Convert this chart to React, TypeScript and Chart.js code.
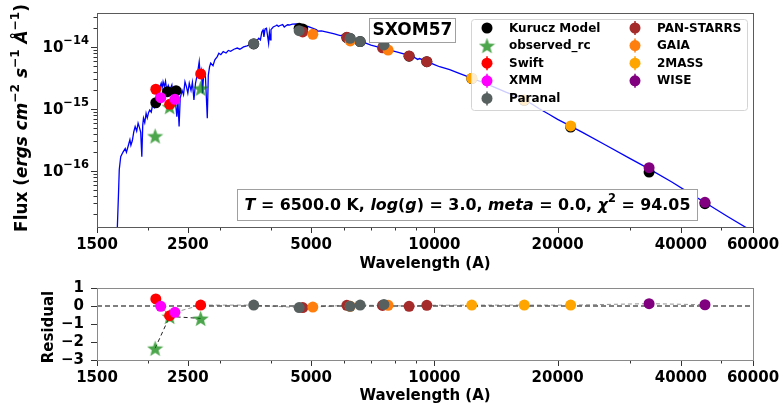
import React, { useEffect, useRef } from "react";
import { Chart, registerables } from "chart.js";

Chart.register(...registerables);

const FONT = "'DejaVu Sans', 'Liberation Sans', sans-serif";

// Kurucz model spectrum: wavelength (Å) and flux (erg cm^-2 s^-1 Å^-1)
const modelWave = [
  1680, 1693, 1700, 1714, 1735, 1758, 1770, 1791, 1805, 1815, 1830, 1845, 1859, 1875, 1890, 1905,
  1918, 1930, 1940, 1948, 1962, 1977, 1990, 2005, 2018, 2035, 2050, 2070, 2085, 2100, 2115, 2130,
  2152, 2164, 2175, 2190, 2205, 2222, 2240, 2260, 2285, 2300, 2320, 2350, 2365, 2380, 2395, 2420,
  2440, 2460, 2480, 2500, 2520, 2545, 2565, 2587, 2610, 2640, 2665, 2680, 2700, 2715, 2735, 2760,
  2789, 2805, 2825, 2843, 2880, 2910, 2950, 2976, 3010, 3050, 3100, 3140, 3180, 3240, 3300, 3350,
  3420, 3488, 3560, 3620, 3680, 3726, 3760, 3790, 3815, 3835, 3860, 3890, 3910, 3937, 3955, 3975,
  3990, 4040, 4100, 4126, 4160, 4200, 4260, 4300, 4340, 4380, 4425, 4500, 4600, 4700, 4800, 4861,
  4900, 5000, 5157, 5180, 5300, 5500, 5700, 5890, 5950, 6100, 6300, 6563, 6600, 6800, 7000, 7500,
  8000, 8500, 8600, 8700, 9000, 9100, 9200, 9585, 10000, 10300, 10900, 11500, 12340, 13000, 14000,
  15000, 15500, 15700, 16000, 16580, 17500, 18000, 19000, 20000, 21520, 23000, 26250, 30000, 33450,
  38100, 42000, 45800, 52000, 60000,
];
const modelFlux = [
  1.0e-17, 4.4e-17, 1.05e-16, 1.7e-16, 2.0e-16, 2.3e-16, 2.0e-16, 2.65e-16, 3.2e-16, 2.6e-16, 3.1e-16,
  4.3e-16, 5.2e-16, 4.4e-16, 5.9e-16, 5.0e-16, 4.2e-16, 1.7e-16, 5.5e-16, 7.1e-16, 6.0e-16, 8.5e-16,
  7.2e-16, 8.8e-16, 9.6e-16, 8.9e-16, 1.15e-15, 1.05e-15, 1.45e-15, 1.8e-15, 1.6e-15, 2.1e-15, 2.6e-15,
  2.2e-15, 2.75e-15, 2.3e-15, 2.8e-15, 1.9e-15, 2.4e-15, 2.05e-15, 2.45e-15, 1.6e-15, 1.9e-15, 7.5e-16,
  1.3e-15, 5.2e-16, 1.5e-15, 2.0e-15, 1.7e-15, 2.75e-15, 2.3e-15, 1.8e-15, 2.6e-15, 2.0e-15, 2.7e-15,
  1.4e-15, 2.6e-15, 3.8e-15, 5.8e-15, 3.5e-15, 4.2e-15, 1.8e-15, 4.0e-15, 3.3e-15, 7.1e-16, 3.5e-15,
  4.8e-15, 5.5e-15, 5.0e-15, 6.2e-15, 7.0e-15, 7.9e-15, 7.5e-15, 8.4e-15, 8.0e-15, 8.8e-15, 8.5e-15,
  9.2e-15, 9.6e-15, 9.2e-15, 1.0e-14, 1.04e-14, 1.1e-14, 1.15e-14, 1.25e-14, 1.38e-14, 1.3e-14,
  1.75e-14, 1.88e-14, 1.45e-14, 1.95e-14, 2.0e-14, 1.6e-14, 1.15e-14, 1.7e-14, 1.3e-14, 1.9e-14,
  2.1e-14, 2.2e-14, 2.26e-14, 2.15e-14, 2.22e-14, 2.3e-14, 2.1e-14, 2.2e-14, 2.28e-14, 2.26e-14,
  2.33e-14, 2.35e-14, 2.3e-14, 2.25e-14, 2.05e-14, 2.15e-14, 2.05e-14, 1.9e-14, 1.8e-14, 1.82e-14,
  1.72e-14, 1.62e-14, 1.52e-14, 1.55e-14, 1.45e-14, 1.33e-14, 1.15e-14, 1.23e-14, 1.15e-14, 1.07e-14,
  9.5e-15, 8.5e-15, 7.6e-15, 7.1e-15, 7.3e-15, 6.6e-15, 6.3e-15, 6.5e-15, 5.85e-15, 5.2e-15, 4.8e-15,
  4.3e-15, 3.75e-15, 3.15e-15, 2.75e-15, 2.25e-15, 1.85e-15, 1.7e-15, 1.6e-15, 1.6e-15, 1.42e-15,
  1.15e-15, 1.02e-15, 8.3e-16, 6.8e-16, 5.3e-16, 4.2e-16, 2.6e-16, 1.6e-16, 1.08e-16, 6.6e-17,
  4.4e-17, 3.1e-17, 1.85e-17, 1.05e-17,
];

// Synthetic photometry of the model
const kuruczWave = [2088, 2229, 2340, 3621, 4675, 4770, 6113, 6225, 6588, 7530, 8675, 9585, 12340, 16580, 21520, 33450, 45800];
const kuruczFlux = [1.26e-15, 1.9e-15, 1.97e-15, 1.12e-14, 2.0e-14, 1.95e-14, 1.42e-14, 1.37e-14, 1.22e-14, 1.05e-14, 7.1e-15, 5.8e-15, 3.1e-15, 1.38e-15, 5.1e-16, 9.6e-17, 2.97e-17];

// Observed photometry per survey: wavelength, flux, residual
const observedWave = [2080, 2257, 2687];
const observedFlux = [3.67e-16, 1.09e-15, 2.16e-15];
const observedResid = [-2.35, -0.58, -0.69];

const swiftWave = [2088, 2257, 2687];
const swiftFlux = [2.08e-15, 1.19e-15, 3.67e-15];
const swiftResid = [0.39, -0.54, 0.05];

const xmmWave = [2147, 2325];
const xmmFlux = [1.52e-15, 1.43e-15];
const xmmResid = [-0.02, -0.35];

const paranalWave = [3621, 4675, 6225, 6588, 7530];
const paranalFlux = [1.13e-14, 1.83e-14, 1.38e-14, 1.22e-14, 1.08e-14];
const paranalResid = [0.05, -0.09, -0.02, 0.05, 0.09];

const panstarrsWave = [4770, 6113, 7470, 8675, 9585];
const panstarrsFlux = [1.75e-14, 1.43e-14, 9.7e-15, 7.16e-15, 5.8e-15];
const panstarrsResid = [-0.09, 0.04, 0.03, -0.02, 0.04];

const gaiaWave = [5049, 6230, 7710];
const gaiaFlux = [1.6e-14, 1.25e-14, 8.9e-15];
const gaiaResid = [-0.06, -0.02, 0.04];

const twomassWave = [12340, 16580, 21520];
const twomassFlux = [3.13e-15, 1.4e-15, 5.32e-16];
const twomassResid = [0.05, 0.05, 0.05];

const wiseWave = [33450, 45800];
const wiseFlux = [1.13e-16, 3.13e-17];
const wiseResid = [0.13, 0.07];

// Axis ticks and ranges
const waveTicks = [1500, 2500, 5000, 10000, 20000, 40000, 60000];
const waveMinorTicks = [2000, 3000, 4000, 6000, 7000, 8000, 9000, 30000, 50000];
const fluxDecades = [-16, -15, -14];
const residTicks = [-3, -2, -1, 0, 1];
const WAVE_MIN = 1500;
const WAVE_MAX = 60000;
const FLUX_MIN = 1.25e-17;
const FLUX_MAX = 3.53e-14;
const RESID_MIN = -3;
const RESID_MAX = 1;

const objectName = "SXOM57";
const fitLabel = [
  { t: "T", it: true },
  { t: " = 6500.0 K, " },
  { t: "log", it: true },
  { t: "(" },
  { t: "g", it: true },
  { t: ") = 3.0, " },
  { t: "meta", it: true },
  { t: " = 0.0, " },
  { t: "χ", it: true },
  { t: "2", sup: true },
  { t: " = 94.05" },
];
const fluxTitle = [
  { t: "Flux (" },
  { t: "ergs cm", it: true },
  { t: "−2", sup: true },
  { t: " s", it: true },
  { t: "−1", sup: true },
  { t: " Å", it: true },
  { t: "−1", sup: true },
  { t: ")" },
];

const GREEN = "rgba(0,128,0,0.7)";

type Seg = { t: string; it?: boolean; sup?: boolean };

const zip = (xs: number[], ys: number[]) => xs.map((x, i) => ({ x, y: ys[i] }));

const starCache: Record<string, HTMLCanvasElement> = {};
function starImage(size: number, color: string) {
  const key = size + color;
  if (starCache[key]) return starCache[key];
  const c = document.createElement("canvas");
  c.width = size;
  c.height = size;
  const g = c.getContext("2d")!;
  const cx = size / 2;
  const cy = size / 2 + size * 0.05;
  const R = size / 2;
  const r = R * 0.42;
  g.beginPath();
  for (let i = 0; i < 10; i++) {
    const a = -Math.PI / 2 + (i * Math.PI) / 5;
    const rad = i % 2 ? r : R;
    g.lineTo(cx + rad * Math.cos(a), cy + rad * Math.sin(a));
  }
  g.closePath();
  g.fillStyle = color;
  g.fill();
  starCache[key] = c;
  return c;
}

function segFont(s: Seg, size: number) {
  const sz = s.sup ? size * 0.72 : size;
  return `${s.it ? "italic " : ""}bold ${sz}px ${FONT}`;
}
function segWidth(ctx: CanvasRenderingContext2D, segs: Seg[], size: number) {
  let w = 0;
  for (const s of segs) {
    ctx.font = segFont(s, size);
    w += ctx.measureText(s.t).width;
  }
  return w;
}
function drawSegs(ctx: CanvasRenderingContext2D, segs: Seg[], size: number, x: number, y: number) {
  let cx = x;
  ctx.textBaseline = "middle";
  ctx.textAlign = "left";
  for (const s of segs) {
    ctx.font = segFont(s, size);
    ctx.fillText(s.t, cx, s.sup ? y - size * 0.42 : y);
    cx += ctx.measureText(s.t).width;
  }
}

type Series = { name: string; color: string; star?: boolean; wave: number[]; flux: number[]; resid?: number[] };
const series: Series[] = [
  { name: "Kurucz Model", color: "#000000", wave: kuruczWave, flux: kuruczFlux },
  { name: "observed_rc", color: GREEN, star: true, wave: observedWave, flux: observedFlux, resid: observedResid },
  { name: "Swift", color: "#ff0000", wave: swiftWave, flux: swiftFlux, resid: swiftResid },
  { name: "XMM", color: "#ff00ff", wave: xmmWave, flux: xmmFlux, resid: xmmResid },
  { name: "Paranal", color: "#575f5f", wave: paranalWave, flux: paranalFlux, resid: paranalResid },
  { name: "PAN-STARRS", color: "#a52a2a", wave: panstarrsWave, flux: panstarrsFlux, resid: panstarrsResid },
  { name: "GAIA", color: "#ff7f0e", wave: gaiaWave, flux: gaiaFlux, resid: gaiaResid },
  { name: "2MASS", color: "#ffa500", wave: twomassWave, flux: twomassFlux, resid: twomassResid },
  { name: "WISE", color: "#800080", wave: wiseWave, flux: wiseFlux, resid: wiseResid },
];

// draw order (higher = further back); Paranal sits above GAIA
const drawOrder: Record<string, number> = {
  "Kurucz Model": 90, observed_rc: 80, Swift: 70, XMM: 60, "PAN-STARRS": 50, GAIA: 45, Paranal: 40, "2MASS": 30, WISE: 20,
};

function pointDataset(s: Series, ys: number[]) {
  return {
    label: s.name,
    data: zip(s.wave, ys),
    backgroundColor: s.color,
    borderColor: s.color,
    borderWidth: 0,
    pointRadius: 5.5,
    pointStyle: s.star ? (starImage(17, GREEN) as any) : "circle",
    order: drawOrder[s.name],
  };
}

function drawFrameAndTicks(chart: any, frameColor: string, yMajor: number[], yMinor: number[]) {
  const { ctx, chartArea: a, scales } = chart;
  const xs = scales.x;
  const ys = scales.y;
  ctx.save();
  ctx.lineWidth = 1;
  ctx.strokeStyle = "#333";
  const line = (x1: number, y1: number, x2: number, y2: number) => {
    ctx.beginPath();
    ctx.moveTo(x1, y1);
    ctx.lineTo(x2, y2);
    ctx.stroke();
  };
  for (const v of waveTicks) {
    const px = Math.round(xs.getPixelForValue(v)) + 0.5;
    line(px, a.bottom, px, a.bottom + 6);
  }
  for (const v of waveMinorTicks) {
    const px = Math.round(xs.getPixelForValue(v)) + 0.5;
    line(px, a.bottom, px, a.bottom + 3.5);
  }
  for (const v of yMajor) {
    const py = Math.round(ys.getPixelForValue(v)) + 0.5;
    line(a.left - 6, py, a.left, py);
  }
  for (const v of yMinor) {
    const py = Math.round(ys.getPixelForValue(v)) + 0.5;
    line(a.left - 3.5, py, a.left, py);
  }
  ctx.strokeStyle = frameColor;
  ctx.strokeRect(Math.round(a.left) + 0.5, Math.round(a.top) + 0.5, Math.round(a.right - a.left), Math.round(a.bottom - a.top));
  ctx.restore();
}

const fluxMinorTicks: number[] = [];
for (let e = -17; e <= -14; e++) {
  for (let m = 2; m <= 9; m++) {
    const v = m * Math.pow(10, e);
    if (v > FLUX_MIN && v < FLUX_MAX) fluxMinorTicks.push(v);
  }
}

const topDecor = {
  id: "topDecor",
  afterDatasetsDraw(chart: any) {
    const { ctx } = chart;
    ctx.save();
    // legend
    const lx = 471, ly = 19, lw = 276, lh = 91;
    ctx.beginPath();
    (ctx as any).roundRect(lx + 0.5, ly + 0.5, lw, lh, 3);
    ctx.fillStyle = "rgba(255,255,255,0.8)";
    ctx.fill();
    ctx.strokeStyle = "#d4d4d4";
    ctx.lineWidth = 1;
    ctx.stroke();
    series.forEach((s, i) => {
      const col = i < 5 ? 0 : 1;
      const row = i < 5 ? i : i - 5;
      const mx = col === 0 ? 487 : 635;
      const tx = col === 0 ? 509 : 657;
      const my = 28 + row * 17.6;
      if (s.star) {
        const img = starImage(17, GREEN);
        ctx.drawImage(img, mx - 8.5, my - 8.5);
      } else {
        if (i > 0) {
          ctx.strokeStyle = s.color;
          ctx.lineWidth = 1.5;
          ctx.beginPath();
          ctx.moveTo(mx, my - 7);
          ctx.lineTo(mx, my + 7);
          ctx.stroke();
        }
        ctx.beginPath();
        ctx.arc(mx, my, 5.5, 0, Math.PI * 2);
        ctx.fillStyle = s.color;
        ctx.fill();
      }
      ctx.fillStyle = "#000";
      ctx.font = `bold 12px ${FONT}`;
      ctx.textAlign = "left";
      ctx.textBaseline = "middle";
      ctx.fillText(s.name, tx, my + 0.5);
    });

    // object name box
    ctx.fillStyle = "#fff";
    ctx.fillRect(369.5, 18.5, 86, 24);
    ctx.strokeStyle = "#a0a0a0";
    ctx.lineWidth = 1;
    ctx.strokeRect(369.5, 18.5, 86, 24);
    ctx.fillStyle = "#000";
    ctx.font = `bold 17px ${FONT}`;
    ctx.textAlign = "center";
    ctx.textBaseline = "middle";
    ctx.fillText(objectName, 412.5, 31);

    // fit parameter box
    ctx.fillStyle = "#fff";
    ctx.fillRect(237.5, 189.5, 460, 31);
    ctx.strokeStyle = "#a0a0a0";
    ctx.strokeRect(237.5, 189.5, 460, 31);
    const w16 = segWidth(ctx, fitLabel, 16);
    const size = Math.max(14, Math.min(18, (16 * 446) / w16));
    const w = segWidth(ctx, fitLabel, size);
    ctx.fillStyle = "#000";
    drawSegs(ctx, fitLabel, size, 467.5 - w / 2, 206);
    ctx.restore();
  },
  afterDraw(chart: any) {
    const { ctx, scales } = chart;
    drawFrameAndTicks(chart, "#5a5a5a", fluxDecades.map((e) => Math.pow(10, e)), fluxMinorTicks);
    ctx.save();
    ctx.fillStyle = "#000";
    // decade tick labels 10^n
    for (const e of fluxDecades) {
      const py = scales.y.getPixelForValue(Math.pow(10, e));
      const sup = "−" + String(-e);
      ctx.font = `bold 11.5px ${FONT}`;
      const ws = ctx.measureText(sup).width;
      ctx.textBaseline = "middle";
      ctx.textAlign = "right";
      ctx.fillText(sup, 89, py - 6);
      ctx.font = `bold 15px ${FONT}`;
      ctx.fillText("10", 89 - ws, py + 1);
    }
    // rotated flux title
    ctx.translate(23, 118);
    ctx.rotate(-Math.PI / 2);
    const w15 = segWidth(ctx, fluxTitle, 15);
    const tsize = Math.max(14, Math.min(17, (15 * 228) / w15));
    const tw = segWidth(ctx, fluxTitle, tsize);
    drawSegs(ctx, fluxTitle, tsize, -tw / 2, 0);
    ctx.restore();
  },
};

const residDecor = {
  id: "residDecor",
  afterDraw(chart: any) {
    const { ctx } = chart;
    drawFrameAndTicks(chart, "#8a8a8a", residTicks, []);
    ctx.save();
    ctx.fillStyle = "#000";
    ctx.font = `bold 15px ${FONT}`;
    ctx.translate(49, 47);
    ctx.rotate(-Math.PI / 2);
    ctx.textAlign = "center";
    ctx.textBaseline = "middle";
    ctx.fillText("Residual", 0, 0);
    ctx.restore();
  },
};

function xScale(height: number, titlePadBottom: number) {
  return {
    type: "logarithmic",
    position: "bottom",
    min: WAVE_MIN,
    max: WAVE_MAX,
    afterBuildTicks: (s: any) => {
      s.ticks = waveTicks.map((v) => ({ value: v }));
    },
    afterFit: (s: any) => {
      s.height = height;
      s.paddingLeft = 0;
      s.paddingRight = 0;
    },
    grid: { display: false, drawTicks: false },
    border: { display: false },
    ticks: {
      autoSkip: false,
      maxRotation: 0,
      minRotation: 0,
      padding: 9,
      color: "#000",
      font: { family: FONT, size: 15, weight: "bold" },
      callback: (v: any) => String(v),
    },
    title: {
      display: true,
      text: "Wavelength (A)",
      color: "#000",
      font: { family: FONT, size: 15, weight: "bold" },
      padding: { top: 0, bottom: titlePadBottom },
    },
  };
}

export default function App() {
  const topRef = useRef<HTMLCanvasElement>(null);
  const botRef = useRef<HTMLCanvasElement>(null);

  useEffect(() => {
    Chart.defaults.font.family = FONT;

    const topDatasets: any[] = [
      {
        label: "model",
        data: zip(modelWave, modelFlux),
        showLine: true,
        borderColor: "#0000ff",
        backgroundColor: "#0000ff",
        borderWidth: 1.3,
        pointRadius: 0,
        order: 100,
      },
      ...series.map((s) => pointDataset(s, s.flux)),
    ];

    const topChart = new Chart(topRef.current!, {
      type: "scatter",
      data: { datasets: topDatasets },
      options: {
        responsive: false,
        animation: false,
        events: [],
        devicePixelRatio: 1,
        layout: { padding: { left: 0, right: 30, top: 13, bottom: 0 } },
        plugins: { legend: { display: false }, tooltip: { enabled: false } },
        scales: {
          x: xScale(53, 7) as any,
          y: {
            type: "logarithmic",
            min: FLUX_MIN,
            max: FLUX_MAX,
            afterFit: (s: any) => {
              s.width = 97;
              s.paddingTop = 0;
              s.paddingBottom = 0;
            },
            grid: { display: false, drawTicks: false },
            border: { display: false },
            ticks: { display: false },
          },
        },
      },
      plugins: [topDecor],
    });

    const residSeries = series.filter((s) => s.resid && !s.star);
    const joined = residSeries
      .flatMap((s) => s.wave.map((w, i) => ({ x: w, y: s.resid![i] })))
      .sort((a, b) => a.x - b.x);
    const starSeries = series.find((s) => s.star)!;

    const botDatasets: any[] = [
      {
        label: "zero",
        data: [
          { x: WAVE_MIN, y: 0 },
          { x: WAVE_MAX, y: 0 },
        ],
        showLine: true,
        borderColor: "#000",
        borderWidth: 1.1,
        borderDash: [5, 3],
        pointRadius: 0,
        order: 100,
      },
      {
        label: "joined",
        data: joined,
        showLine: true,
        borderColor: "rgba(60,60,60,0.55)",
        borderWidth: 1,
        borderDash: [4, 3],
        pointRadius: 0,
        order: 99,
      },
      {
        ...pointDataset(starSeries, starSeries.resid!),
        showLine: true,
        borderColor: "#222",
        borderWidth: 1,
        borderDash: [4, 3],
      },
      ...residSeries.map((s) => pointDataset(s, s.resid!)),
    ];

    const botChart = new Chart(botRef.current!, {
      type: "scatter",
      data: { datasets: botDatasets },
      options: {
        responsive: false,
        animation: false,
        events: [],
        devicePixelRatio: 1,
        layout: { padding: { left: 0, right: 30, top: 8, bottom: 0 } },
        plugins: { legend: { display: false }, tooltip: { enabled: false } },
        scales: {
          x: xScale(45, 0) as any,
          y: {
            type: "linear",
            min: RESID_MIN,
            max: RESID_MAX,
            afterBuildTicks: (s: any) => {
              s.ticks = residTicks.map((v) => ({ value: v }));
            },
            afterFit: (s: any) => {
              s.width = 97;
              s.paddingTop = 0;
              s.paddingBottom = 0;
            },
            grid: { display: false, drawTicks: false },
            border: { display: false },
            ticks: {
              autoSkip: false,
              padding: 13,
              color: "#000",
              font: { family: FONT, size: 15, weight: "bold" },
              callback: (v: any) => (v < 0 ? "−" + Math.abs(v) : String(v)),
            },
          },
        },
      },
      plugins: [residDecor],
    });

    return () => {
      topChart.destroy();
      botChart.destroy();
    };
  }, []);

  return (
    <div style={{ position: "fixed", left: 0, top: 0, width: 783, height: 405, background: "#fff" }}>
      <canvas ref={topRef} width={783} height={280} style={{ position: "absolute", left: 0, top: 0, width: 783, height: 280 }} />
      <canvas ref={botRef} width={783} height={125} style={{ position: "absolute", left: 0, top: 280, width: 783, height: 125 }} />
    </div>
  );
}
